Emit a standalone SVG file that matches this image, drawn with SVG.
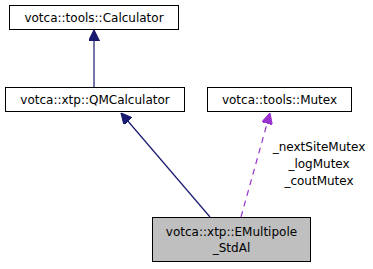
<svg xmlns="http://www.w3.org/2000/svg" width="373" height="269" viewBox="0 0 373 269">
  <style>
    .box { fill: #ffffff; stroke: #000000; stroke-width: 1; }
    .cur { fill: #bfbfbf; stroke: #000000; stroke-width: 1; }
    text { font-family: "DejaVu Sans", "Liberation Sans", sans-serif; font-size: 12px; fill: #000000; text-anchor: middle; }
    .inh { stroke: #191970; stroke-width: 1.2; fill: none; }
    .use { stroke: #9a32cd; stroke-width: 1.2; fill: none; stroke-dasharray: 6,5; }
  </style>
  <defs>
    <marker id="ah-inh" viewBox="0 0 10 10" refX="10" refY="5" markerWidth="11" markerHeight="11" markerUnits="userSpaceOnUse" orient="auto">
      <path d="M0,0 L10,5 L0,10 z" fill="#191970" stroke="#191970"/>
    </marker>
    <marker id="ah-use" viewBox="0 0 10 10" refX="10" refY="5" markerWidth="11" markerHeight="11" markerUnits="userSpaceOnUse" orient="auto">
      <path d="M0,0 L10,5 L0,10 z" fill="#9a32cd" stroke="#9a32cd"/>
    </marker>
  </defs>

  <g id="edges">
    <line class="inh" x1="94" y1="87" x2="94" y2="30" marker-end="url(#ah-inh)"/>
    <line class="inh" x1="210" y1="217" x2="121" y2="113" marker-end="url(#ah-inh)"/>
    <line class="use" x1="241" y1="217" x2="270" y2="113" marker-end="url(#ah-use)"/>
    <text x="319" y="151">_nextSiteMutex</text>
    <text x="319" y="168">_logMutex</text>
    <text x="319" y="185">_coutMutex</text>
  </g>

  <g id="node-calculator">
    <rect class="box" x="9.5" y="5.5" width="169" height="24"/>
    <text x="94" y="22">votca::tools::Calculator</text>
  </g>

  <g id="node-qmcalculator">
    <rect class="box" x="5.5" y="87.5" width="179" height="24"/>
    <text x="95" y="104">votca::xtp::QMCalculator</text>
  </g>

  <g id="node-mutex">
    <rect class="box" x="207.5" y="87.5" width="144" height="24"/>
    <text x="279.5" y="104">votca::tools::Mutex</text>
  </g>

  <g id="node-emultipole">
    <rect class="cur" x="152.5" y="217.5" width="158" height="44"/>
    <text x="231.5" y="236">votca::xtp::EMultipole</text>
    <text x="231.5" y="252">_StdAl</text>
  </g>
</svg>
